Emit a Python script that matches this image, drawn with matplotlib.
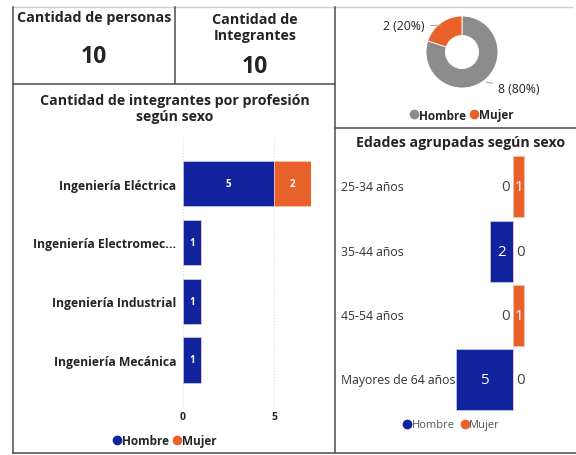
import matplotlib
matplotlib.use("Agg")
from matplotlib import pyplot as plt
from matplotlib.lines import Line2D
from matplotlib.transforms import blended_transform_factory

plt.rcParams['font.family'] = ['Open Sans', 'DejaVu Sans']

# data
total_personas = 10
total_integrantes = 10

sexo = ['Hombre', 'Mujer']
sexo_total = [8, 2]

profesiones = ['Ingeniería Eléctrica', 'Ingeniería Electromec...',
               'Ingeniería Industrial', 'Ingeniería Mecánica']
prof_hombre = [5, 1, 1, 1]
prof_mujer = [2, 0, 0, 0]

edades = ['25-34 años', '35-44 años', '45-54 años', 'Mayores de 64 años']
edad_hombre = [0, 2, 0, 5]
edad_mujer = [1, 0, 1, 0]

azul = '#12239E'
naranja = '#E8602A'
gris = '#8C8C8C'
texto = '#252423'

W, H = 576, 456
fig = plt.figure(figsize=(W / 100, H / 100), dpi=100)


def fx(px):
    return px / W


def fy(py):
    return 1 - py / H


def box(l, t, r, b):
    # axes rect from pixel edges
    return [fx(l), fy(b), fx(r) - fx(l), fy(t) - fy(b)]


def line(x0, y0, x1, y1, c='#5a5a5a', lw=1.2):
    fig.add_artist(Line2D([fx(x0), fx(x1)], [fy(y0), fy(y1)], color=c, lw=lw))


# panel borders
line(13, 8, 335, 8, c='#cfcfcf', lw=1)
line(335, 8, 572, 8, c='#cfcfcf', lw=1)
line(13, 8, 13, 454)
line(13, 454, 576, 454)
line(13, 85, 335, 85)
line(175, 8, 175, 85)
line(335, 8, 335, 454)
line(335, 129, 576, 129)

# cards
fig.text(fx(94), fy(18), 'Cantidad de personas', ha='center', va='center',
         fontsize=10.3, fontweight='bold', color=texto)
fig.text(fx(94), fy(57), str(total_personas), ha='center', va='center',
         fontsize=16.5, fontweight='bold', color=texto)
fig.text(fx(255), fy(28), 'Cantidad de\nIntegrantes', ha='center', va='center',
         fontsize=10.3, fontweight='bold', color=texto, linespacing=1.1)
fig.text(fx(255), fy(67), str(total_integrantes), ha='center', va='center',
         fontsize=16.5, fontweight='bold', color=texto)

# donut
axd = fig.add_axes(box(417, 8, 507, 98))
axd.pie(sexo_total, colors=[gris, naranja], startangle=90, counterclock=False,
        wedgeprops=dict(width=0.54, edgecolor='white', linewidth=0.6))
axd.set_xlim(-1.25, 1.25)
axd.set_ylim(-1.25, 1.25)
axd.annotate('%d (%d%%)' % (sexo_total[1], round(100 * sexo_total[1] / sum(sexo_total))),
             xy=(-0.55, 0.80), xytext=(-1.05, 0.75), ha='right', va='center',
             fontsize=8.8, color=texto,
             arrowprops=dict(arrowstyle='-', color='#aaaaaa', lw=0.8,
                             connectionstyle='angle,angleA=0,angleB=60,rad=0'))
axd.annotate('%d (%d%%)' % (sexo_total[0], round(100 * sexo_total[0] / sum(sexo_total))),
             xy=(0.6, -0.82), xytext=(1.0, -1.02), ha='left', va='center',
             fontsize=8.8, color=texto,
             arrowprops=dict(arrowstyle='-', color='#aaaaaa', lw=0.8))
hd = [Line2D([], [], marker='o', ls='', color=c, markersize=6) for c in [gris, naranja]]
fig.legend(hd, sexo, loc='center', bbox_to_anchor=(fx(462), fy(116)), ncol=2,
           frameon=False, handlelength=0.6, handletextpad=0.1, columnspacing=0.4,
           prop=dict(size=8.5, weight='bold'), labelcolor=texto)

# profesion por sexo
fig.text(fx(175), fy(109), 'Cantidad de integrantes por profesión\nsegún sexo',
         ha='center', va='center', fontsize=10.2, fontweight='bold', color=texto,
         linespacing=1.15)
axp = fig.add_axes(box(183, 137, 311, 408))
yp = list(range(len(profesiones)))
axp.barh(yp, prof_hombre, height=0.77, color=azul, edgecolor='#c8cbe8', lw=0.5)
axp.barh(yp, prof_mujer, left=prof_hombre, height=0.77, color=naranja,
         edgecolor='#f5c6b3', lw=0.5)
for i in yp:
    if prof_hombre[i]:
        axp.text(prof_hombre[i] / 2, i, str(prof_hombre[i]), ha='center', va='center',
                 color='white', fontsize=7, fontweight='bold')
    if prof_mujer[i]:
        axp.text(prof_hombre[i] + prof_mujer[i] / 2, i, str(prof_mujer[i]), ha='center',
                 va='center', color='white', fontsize=7, fontweight='bold')
axp.set_xlim(0, 7)
axp.set_ylim(3.8, -0.81)
axp.set_yticks(yp)
axp.set_yticklabels(profesiones, fontsize=8.7, fontweight='bold', color=texto)
axp.set_xticks([0, 5])
axp.set_xticklabels(['0', '5'], fontsize=7.5, fontweight='bold', color=texto)
axp.tick_params(length=0, pad=3)
axp.tick_params(axis='y', pad=5)
axp.grid(axis='x', ls=':', color='#dddddd', lw=0.8)
axp.set_axisbelow(True)
for s in axp.spines.values():
    s.set_visible(False)
hp = [Line2D([], [], marker='o', ls='', color=c, markersize=6) for c in [azul, naranja]]
fig.legend(hp, sexo, loc='center', bbox_to_anchor=(fx(165), fy(442)), ncol=2,
           frameon=False, handlelength=0.6, handletextpad=0.1, columnspacing=0.4,
           prop=dict(size=8.5, weight='bold'), labelcolor=texto)

# edades por sexo
fig.text(fx(461), fy(143), 'Edades agrupadas según sexo', ha='center', va='center',
         fontsize=10.2, fontweight='bold', color=texto)
axe = fig.add_axes(box(450, 155, 570, 415))
ye = list(range(len(edades)))
axe.barh(ye, [-v for v in edad_hombre], height=0.95, color=azul,
         edgecolor='#c8cbe8', lw=0.5)
axe.barh(ye, edad_mujer, height=0.95, color=naranja, edgecolor='#f5c6b3', lw=0.5)
for i in ye:
    h, m = edad_hombre[i], edad_mujer[i]
    if h:
        axe.text(-h / 2, i, str(h), ha='center', va='center', color='white', fontsize=11)
    else:
        axe.text(-0.3, i, '0', ha='right', va='center', color='#444444', fontsize=11)
    if m:
        axe.text(m / 2, i, str(m), ha='center', va='center', color='white', fontsize=11)
    else:
        axe.text(0.3, i, '0', ha='left', va='center', color='#444444', fontsize=11)
axe.set_xlim(-5.53, 5.0)
axe.set_ylim(3.53, -0.51)
axe.set_xticks([])
axe.set_yticks([])
for s in axe.spines.values():
    s.set_visible(False)
tr = blended_transform_factory(fig.transFigure, axe.transData)
for i, lab in enumerate(edades):
    axe.text(fx(341), i, lab, transform=tr, ha='left', va='center', fontsize=8.8,
             color='#333333', zorder=0)
fig.legend(hp, sexo, loc='center', bbox_to_anchor=(fx(452), fy(426)), ncol=2,
           frameon=False, handlelength=0.6, handletextpad=0.1, columnspacing=0.6,
           prop=dict(size=8), labelcolor='#555555')

fig.savefig('out.png', dpi=100, facecolor='white')
